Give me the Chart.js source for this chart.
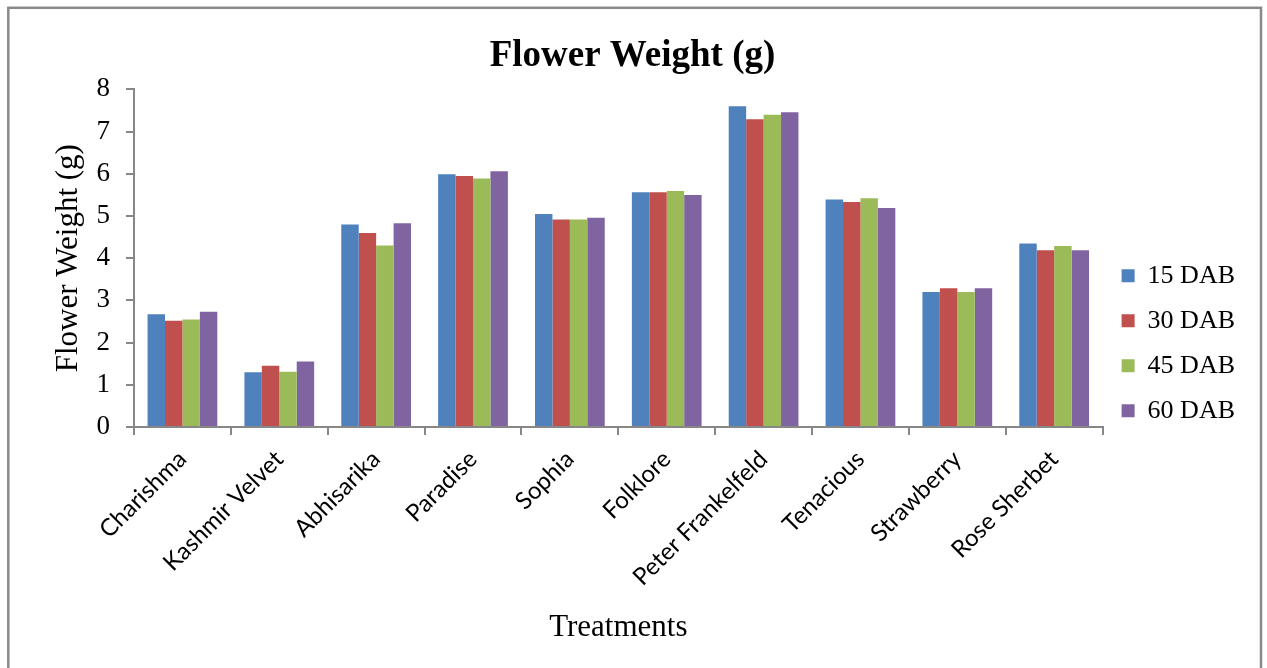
<!DOCTYPE html>
<html>
<head>
<meta charset="utf-8">
<script src="https://cdn.jsdelivr.net/npm/chart.js@4/dist/chart.umd.min.js"></script>
<style>
  html, body { margin: 0; padding: 0; background: #fff; }
  #wrap { width: 1267px; height: 668px; }
</style>
</head>
<body>
<div id="wrap"><canvas id="chart" width="1267" height="668"></canvas></div>
<script>
// Flower weight (g) of ten gladiolus varieties at four sampling stages
const treatments = ['Charishma', 'Kashmir Velvet', 'Abhisarika', 'Paradise', 'Sophia',
                    'Folklore', 'Peter Frankelfeld', 'Tenacious', 'Strawberry', 'Rose Sherbet'];
const stages = ['15 DAB', '30 DAB', '45 DAB', '60 DAB'];
const dab15 = [2.67, 1.30, 4.80, 5.99, 5.05, 5.56, 7.60, 5.39, 3.20, 4.35];
const dab30 = [2.52, 1.45, 4.60, 5.95, 4.92, 5.56, 7.29, 5.33, 3.29, 4.19];
const dab45 = [2.55, 1.31, 4.30, 5.89, 4.92, 5.59, 7.40, 5.42, 3.20, 4.29];
const dab60 = [2.73, 1.55, 4.83, 6.06, 4.96, 5.50, 7.46, 5.19, 3.29, 4.19];
const yTicks = [0, 1, 2, 3, 4, 5, 6, 7, 8];

const colors = ['#4F81BD', '#C0504D', '#9BBB59', '#8064A2'];
const seriesValues = [dab15, dab30, dab45, dab60];

const serif = "'Liberation Serif', 'Times New Roman', serif";
const axisGrey = '#878787';

// outline drawn around the whole chart
const frame = {
  id: 'frame',
  afterDraw(chart) {
    const ctx = chart.ctx;
    ctx.save();
    ctx.strokeStyle = '#898989';
    ctx.lineWidth = 2.5;
    ctx.strokeRect(8.3, 7.8, 1252.7, 720);
    ctx.restore();
  }
};

new Chart(document.getElementById('chart'), {
  type: 'bar',
  data: {
    labels: treatments,
    datasets: stages.map((name, i) => ({
      label: name,
      data: seriesValues[i],
      backgroundColor: colors[i],
      borderWidth: 0,
      categoryPercentage: 0.72,
      barPercentage: 1.0
    }))
  },
  options: {
    responsive: false,
    animation: false,
    devicePixelRatio: 1,
    layout: { padding: { left: 20, right: 22, top: 17, bottom: 8 } },
    plugins: {
      title: {
        display: true,
        text: 'Flower Weight (g)',
        color: '#000',
        font: { family: serif, size: 37, weight: 'bold' },
        padding: { top: 17, bottom: 11 }
      },
      legend: {
        position: 'right',
        align: 'center',
        title: { display: true, text: ' ', font: { size: 8 }, padding: 0 },
        labels: {
          color: '#000',
          font: { family: serif, size: 26 },
          boxWidth: 13,
          boxHeight: 13,
          padding: 19
        }
      },
      tooltip: { enabled: false }
    },
    scales: {
      x: {
        afterFit(scale) {
          // rotated category names may hang past the plot edges
          scale.paddingLeft = 0;
          scale.paddingRight = 0;
          scale.height = 233;
        },
        grid: {
          display: true,
          drawOnChartArea: false,
          drawTicks: true,
          tickLength: 8,
          color: axisGrey,
          lineWidth: 2,
          offset: true
        },
        border: { display: true, color: axisGrey, width: 2 },
        ticks: {
          color: '#000',
          font: { family: "Lato, 'Open Sans', sans-serif", size: 24 },
          minRotation: 45,
          maxRotation: 45,
          autoSkip: false,
          padding: 10
        },
        title: {
          display: true,
          text: 'Treatments',
          color: '#000',
          font: { family: serif, size: 31 },
          padding: { top: 4, bottom: 14 }
        }
      },
      y: {
        min: 0,
        max: 8,
        afterBuildTicks(scale) { scale.ticks = yTicks.map(v => ({ value: v })); },
        afterFit(scale) { scale.width = 114; },
        grid: {
          display: true,
          drawOnChartArea: false,
          drawTicks: true,
          tickLength: 8,
          color: axisGrey,
          lineWidth: 2
        },
        border: { display: true, color: axisGrey, width: 2 },
        ticks: {
          color: '#000',
          font: { family: serif, size: 27 },
          padding: 16
        },
        title: {
          display: true,
          text: 'Flower Weight (g)',
          color: '#000',
          font: { family: serif, size: 31 },
          padding: { top: 30, bottom: 9 }
        }
      }
    }
  },
  plugins: [frame]
});
</script>
</body>
</html>
